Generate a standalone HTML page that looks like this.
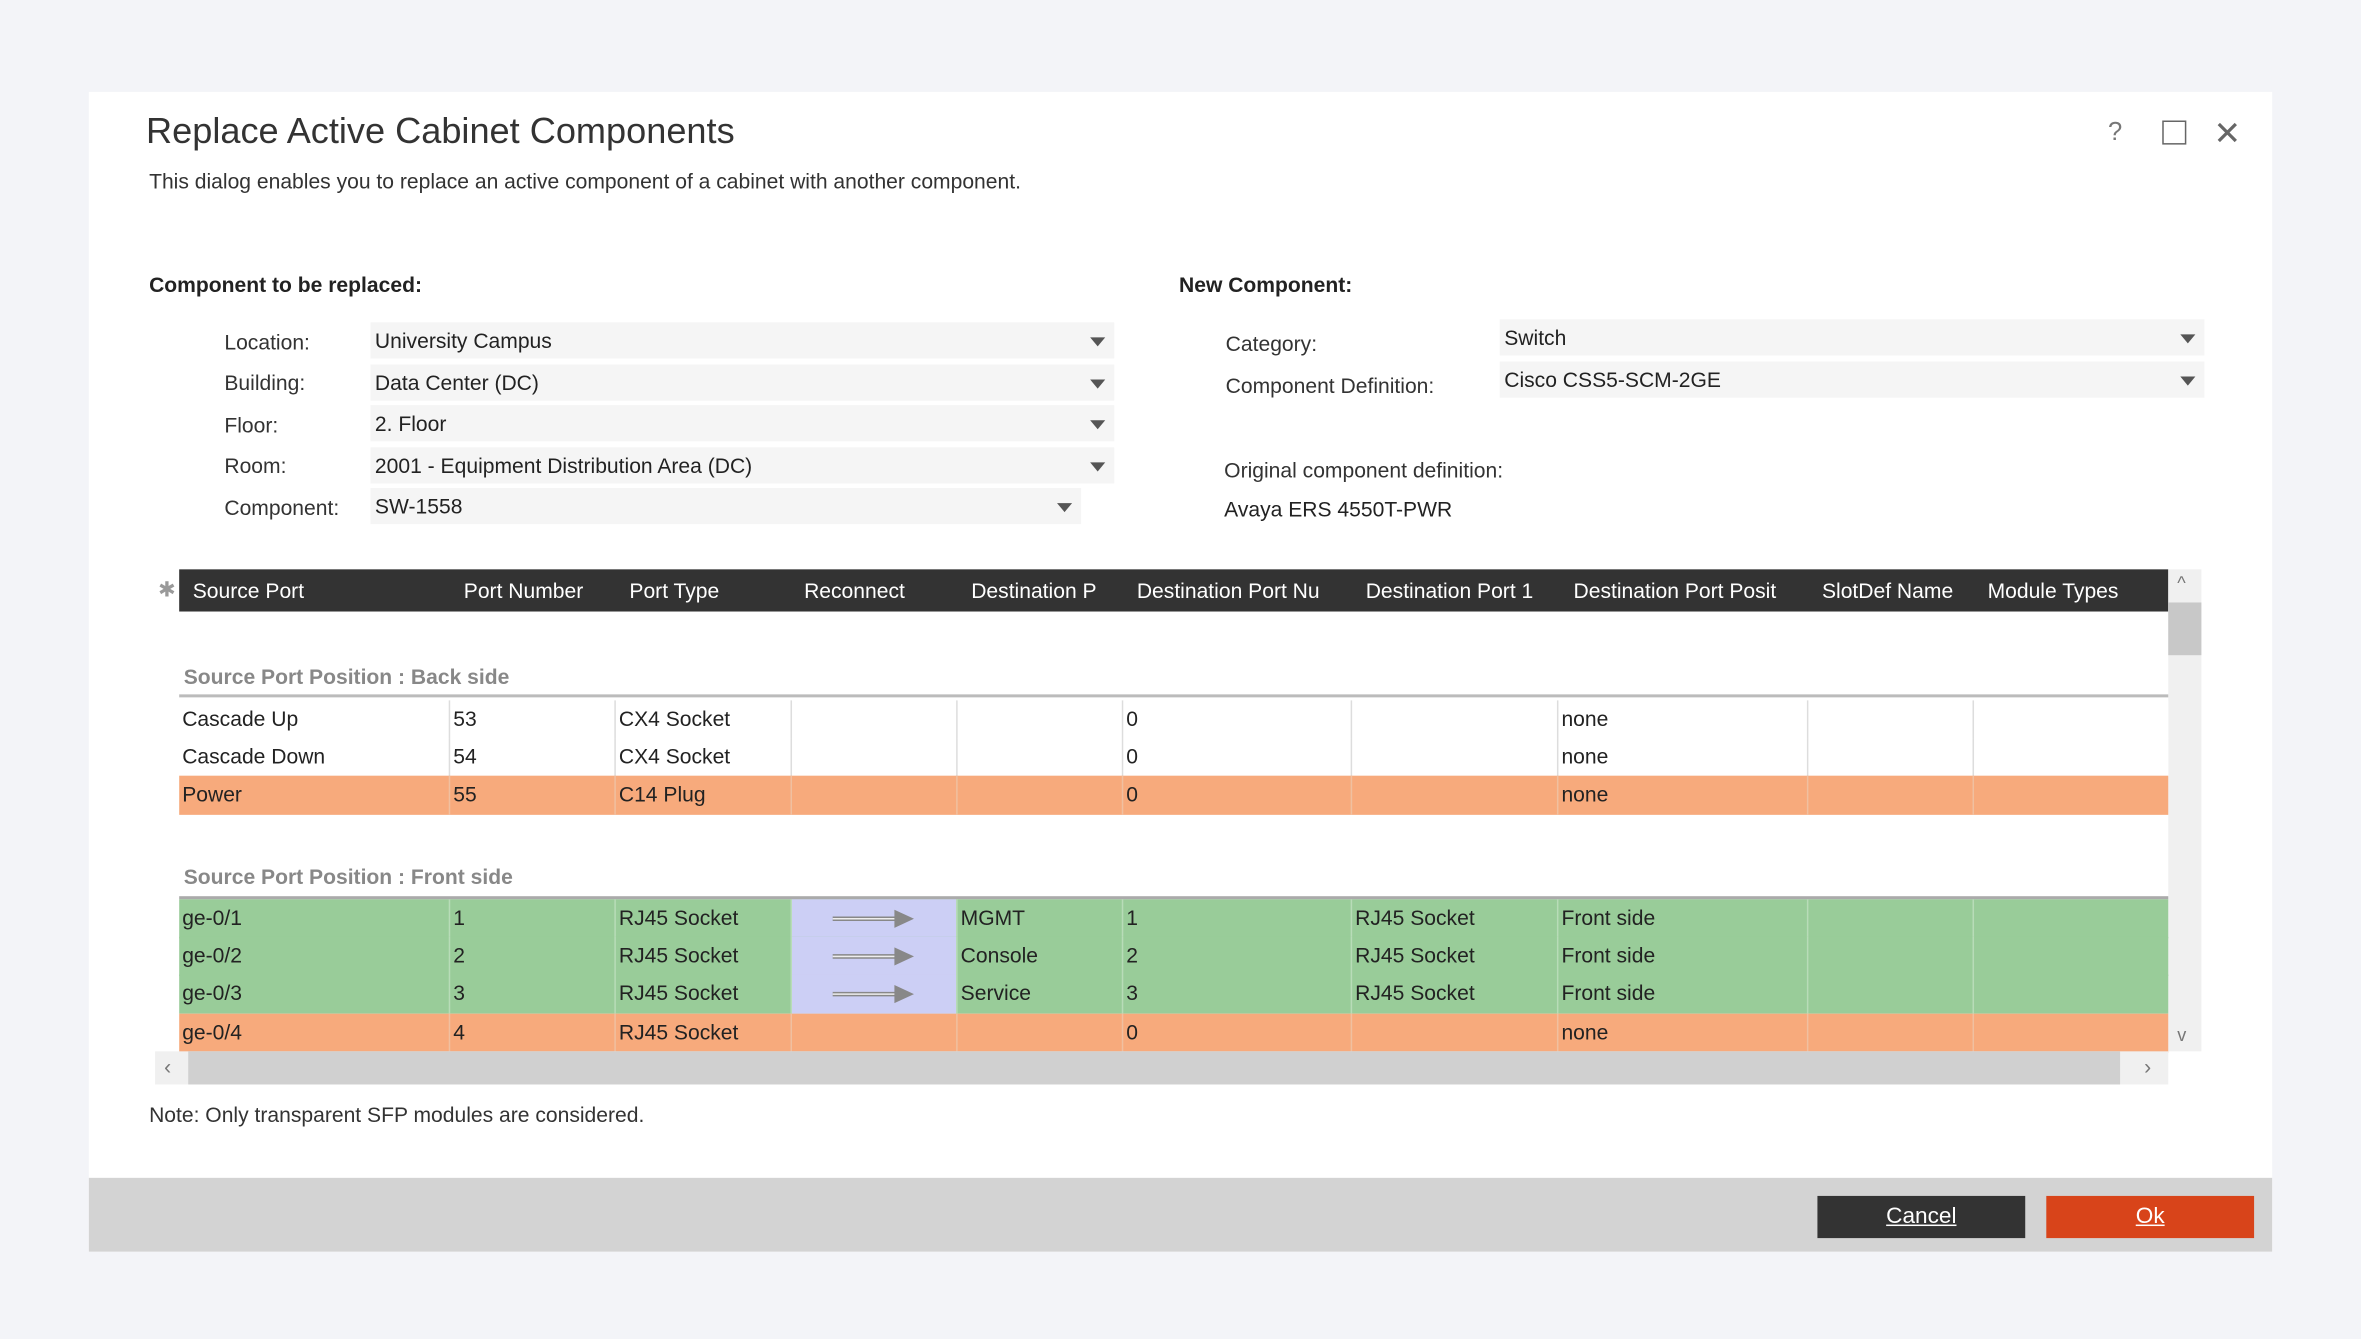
<!DOCTYPE html>
<html><head><meta charset="utf-8"><style>
html,body{margin:0;padding:0;background:#f3f4f8;overflow:hidden;width:2361px;height:1339px}
#s{position:absolute;left:0;top:0;width:1568px;height:889px;transform:scale(1.50574,1.5062);transform-origin:0 0;font-family:"Liberation Sans",sans-serif;color:#222}
.a{position:absolute;white-space:nowrap}
.dlg{position:absolute;left:59px;top:61px;width:1450px;height:770px;background:#fff}
.foot{position:absolute;left:59px;top:782px;width:1450px;height:49px;background:#d3d3d3}
.lbl{font-size:14px;color:#333}
.sel{position:absolute;height:24px;background:#f5f5f5;font-size:14px;line-height:24px;padding-left:3px;box-sizing:border-box;color:#222}
.sel:after{content:"";position:absolute;right:6px;top:10px;border-left:5px solid transparent;border-right:5px solid transparent;border-top:6px solid #555}
.hdr{position:absolute;left:119px;top:378px;width:1321px;height:28px;background:#333}
.hdr span{position:absolute;top:6px;color:#fff;font-size:14px;white-space:nowrap}
.row{position:absolute;left:119px;width:1321px;height:26px;font-size:14px}
.row span{position:absolute;top:4px;white-space:nowrap}
.vl{position:absolute;top:0;bottom:0;width:1px}
</style></head><body><div id="s">
<div class="dlg"></div>
<div class="a" style="left:97px;top:74px;font-size:24px;color:#333">Replace Active Cabinet Components</div>
<div class="a" style="left:99px;top:112px;font-size:14px;color:#333">This dialog enables you to replace an active component of a cabinet with another component.</div>
<div class="a" style="left:1400px;top:78px;font-size:17px;color:#777">?</div>
<div class="a" style="left:1436px;top:80px;width:14px;height:14px;border:1.5px solid #666"></div>
<div class="a" style="left:1470px;top:76px;font-size:22px;color:#666">✕</div>

<div class="a" style="left:99px;top:181px;font-size:14px;font-weight:bold">Component to be replaced:</div>
<div class="a lbl" style="left:149px;top:219px">Location:</div>
<div class="a lbl" style="left:149px;top:246px">Building:</div>
<div class="a lbl" style="left:149px;top:274px">Floor:</div>
<div class="a lbl" style="left:149px;top:301px">Room:</div>
<div class="a lbl" style="left:149px;top:329px">Component:</div>
<div class="sel" style="left:246px;top:214px;width:494px">University Campus</div>
<div class="sel" style="left:246px;top:242px;width:494px">Data Center (DC)</div>
<div class="sel" style="left:246px;top:269px;width:494px">2. Floor</div>
<div class="sel" style="left:246px;top:297px;width:494px">2001 - Equipment Distribution Area (DC)</div>
<div class="sel" style="left:246px;top:324px;width:472px">SW-1558</div>

<div class="a" style="left:783px;top:181px;font-size:14px;font-weight:bold">New Component:</div>
<div class="a lbl" style="left:814px;top:220px">Category:</div>
<div class="a lbl" style="left:814px;top:248px">Component Definition:</div>
<div class="sel" style="left:996px;top:212px;width:468px">Switch</div>
<div class="sel" style="left:996px;top:240px;width:468px">Cisco CSS5-SCM-2GE</div>
<div class="a lbl" style="left:813px;top:304px">Original component definition:</div>
<div class="a" style="left:813px;top:330px;font-size:14px">Avaya ERS 4550T-PWR</div>

<div class="a" style="left:105px;top:383px;font-size:14px;color:#999">✱</div>
<div class="hdr">
<span style="left:9px">Source Port</span><span style="left:189px">Port Number</span><span style="left:299px">Port Type</span><span style="left:415px">Reconnect</span><span style="left:526px">Destination P</span><span style="left:636px">Destination Port Nu</span><span style="left:788px">Destination Port 1</span><span style="left:926px">Destination Port Posit</span><span style="left:1091px">SlotDef Name</span><span style="left:1201px">Module Types</span>
</div>
<div class="a" style="left:1440px;top:378px;width:22px;height:320px;background:#f0f0f0"></div>
<div class="a" style="left:1440px;top:400px;width:22px;height:35px;background:#c8c8c8"></div>
<div class="a" style="left:1446px;top:380px;font-size:12px;color:#777">^</div>
<div class="a" style="left:1446px;top:680px;font-size:12px;color:#777">v</div>

<div class="a" style="left:122px;top:441px;font-size:14px;font-weight:bold;color:#888">Source Port Position : Back side</div>
<div class="a" style="left:119px;top:461px;width:1321px;height:2px;background:#bbb"></div>
<div id="rows"></div>
<div class="a" style="left:122px;top:574px;font-size:14px;font-weight:bold;color:#888">Source Port Position : Front side</div>
<div class="a" style="left:119px;top:595px;width:1321px;height:2px;background:#aaa"></div>

<div class="a" style="left:103px;top:698px;width:1337px;height:22px;background:#f0f0f0"></div>
<div class="a" style="left:125px;top:698px;width:1283px;height:22px;background:#d0d0d0"></div>
<div class="a" style="left:109px;top:700px;font-size:14px;color:#777">‹</div>
<div class="a" style="left:1424px;top:700px;font-size:14px;color:#777">›</div>

<div class="a" style="left:99px;top:732px;font-size:14px;color:#333">Note: Only transparent SFP modules are considered.</div>
<div class="foot"></div>
<div class="a" style="left:1207px;top:794px;width:138px;height:28px;background:#333;color:#fff;font-size:15px;line-height:28px;text-align:center;text-decoration:underline">Cancel</div>
<div class="a" style="left:1359px;top:794px;width:138px;height:28px;background:#d8441a;color:#fff;font-size:15px;line-height:28px;text-align:center;text-decoration:underline">Ok</div>
</div>
<script>
var cols=[2,182,292,409,519,629,781,918,1084,1194];
var divs=[179,289,406,516,626,778,915,1081,1191];
var data=[
[465,'#fff','#ddd',['Cascade Up','53','CX4 Socket','','','0','','none','','']],
[490,'#fff','#ddd',['Cascade Down','54','CX4 Socket','','','0','','none','','']],
[515,'#f7aa7c','#f0c0a0',['Power','55','C14 Plug','','','0','','none','','']],
[597,'#99cc99','#b8dcb8',['ge-0/1','1','RJ45 Socket','A','MGMT','1','RJ45 Socket','Front side','','']],
[622,'#99cc99','#b8dcb8',['ge-0/2','2','RJ45 Socket','A','Console','2','RJ45 Socket','Front side','','']],
[647,'#99cc99','#b8dcb8',['ge-0/3','3','RJ45 Socket','A','Service','3','RJ45 Socket','Front side','','']],
[673,'#f7aa7c','#f0c0a0',['ge-0/4','4','RJ45 Socket','','','0','','none','','']]];
var h='';
data.forEach(function(r){
 h+='<div class="row" style="top:'+r[0]+'px;background:'+r[1]+'">';
 r[3].forEach(function(t,i){
  if(t==='A'){h+='<div style="position:absolute;left:406px;top:0;width:110px;height:100%;background:#cccff5"></div><svg style="position:absolute;left:433px;top:6px" width="56" height="14"><line x1="1" y1="7" x2="44" y2="7" stroke="#888" stroke-width="3"/><line x1="1" y1="7" x2="44" y2="7" stroke="#eee" stroke-width="1"/><polygon points="42,1 55,7 42,13" fill="#888"/></svg>';}
  else h+='<span style="left:'+cols[i]+'px">'+t+'</span>';
 });
 divs.forEach(function(x){h+='<div class="vl" style="left:'+x+'px;background:'+r[2]+'"></div>';});
 h+='</div>';
});
document.getElementById('rows').innerHTML=h;
</script>
</body></html>
